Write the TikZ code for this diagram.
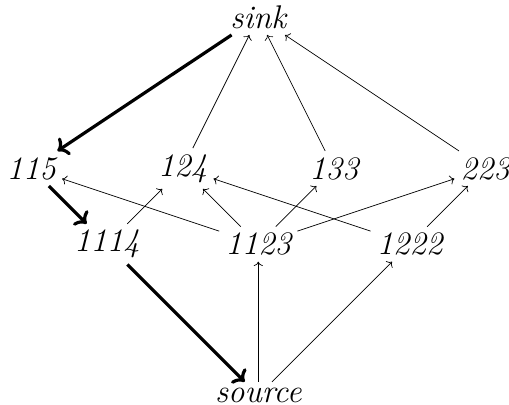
\documentclass[tikz,border=0pt]{standalone}
\usepackage{tikz}
\usetikzlibrary{arrows.meta, positioning}

\begin{document}
\begin{tikzpicture}[
  x=1.5cm, y=1.5cm,
  vert/.style={font=\fontsize{18.5}{22}\selectfont\itshape},
  arr/.style={->},
  path/.style={->, line width=1.8pt}
]
  \useasboundingbox (-5.12cm,-0.18cm) rectangle (4.97cm,7.84cm);

  \node[vert] (sink) at (0,5) {sink};
  \node[vert] (n115) at (-3,3) {115};
  \node[vert] (n124) at (-1,3) {124};
  \node[vert] (n133) at (1,3) {133};
  \node[vert] (n223) at (3,3) {223};
  \node[vert] (n1114) at (-2,2) {1114};
  \node[vert] (n1123) at (0,2) {1123};
  \node[vert] (n1222) at (2,2) {1222};
  \node[vert] (source) at (0,0) {source};

  % path through the graph
  \draw[path] (sink) -- (n115);
  \draw[path] (n115) -- (n1114);
  \draw[path] (n1114) -- (source);

  \draw[arr] (source) -- (n1123);
  \draw[arr] (source) -- (n1222);
  \draw[arr] (n1114) -- (n124);
  \draw[arr] (n1123) -- (n115);
  \draw[arr] (n1123) -- (n124);
  \draw[arr] (n1123) -- (n133);
  \draw[arr] (n1123) -- (n223);
  \draw[arr] (n1222) -- (n124);
  \draw[arr] (n1222) -- (n223);
  \draw[arr] (n124) -- (sink);
  \draw[arr] (n133) -- (sink);
  \draw[arr] (n223) -- (sink);
\end{tikzpicture}
\end{document}
